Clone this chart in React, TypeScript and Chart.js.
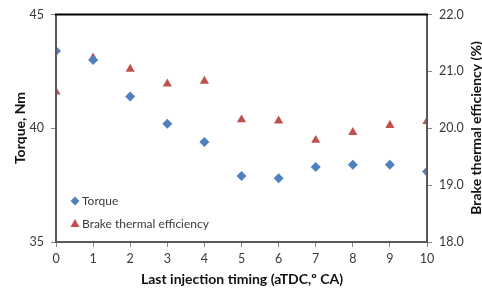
import React, { useEffect, useRef } from "react";
import { Chart, registerables } from "chart.js";

Chart.register(...registerables);

const injectionTiming = [0, 1, 2, 3, 4, 5, 6, 7, 8, 9, 10];
const torque = [43.4, 43.0, 41.4, 40.2, 39.4, 37.9, 37.8, 38.3, 38.4, 38.4, 38.1];
const bte = [20.64, 21.24, 21.04, 20.78, 20.83, 20.15, 20.13, 19.79, 19.93, 20.05, 20.12];
const torqueTicks = [35, 40, 45];
const bteTicks = [18, 19, 20, 21, 22];

const FONT = "Lato, 'Open Sans', sans-serif";
const BLUE = "#4F81BD";
const RED = "#C0504D";
const TEXT = "#3a3a3a";

const decorPlugin = {
  id: "decor",
  afterDraw(chart: any) {
    const { ctx, chartArea } = chart;
    const { left, right, top, bottom } = chartArea;
    ctx.save();
    // frame
    ctx.lineWidth = 2;
    ctx.strokeStyle = "#595959";
    ctx.beginPath();
    ctx.moveTo(left, top);
    ctx.lineTo(left, bottom);
    ctx.lineTo(right, bottom);
    ctx.lineTo(right, top);
    ctx.stroke();
    ctx.strokeStyle = "#000000";
    ctx.beginPath();
    ctx.moveTo(left - 1, top);
    ctx.lineTo(right + 1, top);
    ctx.stroke();

    // titles
    ctx.fillStyle = "#111";
    ctx.font = `bold 14px ${FONT}`;
    ctx.textAlign = "center";
    ctx.textBaseline = "middle";
    ctx.fillText("Last injection timing (aTDC,º CA)", 242, 279);
    ctx.save();
    ctx.translate(20, 128);
    ctx.rotate(-Math.PI / 2);
    ctx.fillText("Torque, Nm", 0, 0);
    ctx.restore();
    ctx.save();
    ctx.translate(476, 128);
    ctx.rotate(-Math.PI / 2);
    ctx.fillText("Brake thermal efficiency (%)", 0, 0);
    ctx.restore();

    // legend
    ctx.font = `12px ${FONT}`;
    ctx.textAlign = "left";
    const lx = 75;
    const y1 = 201;
    const y2 = 224;
    ctx.fillStyle = BLUE;
    ctx.beginPath();
    ctx.moveTo(lx, y1 - 4.5);
    ctx.lineTo(lx + 4.5, y1);
    ctx.lineTo(lx, y1 + 4.5);
    ctx.lineTo(lx - 4.5, y1);
    ctx.closePath();
    ctx.fill();
    ctx.fillStyle = RED;
    ctx.beginPath();
    ctx.moveTo(lx, y2 - 5);
    ctx.lineTo(lx + 4.5, y2 + 3);
    ctx.lineTo(lx - 4.5, y2 + 3);
    ctx.closePath();
    ctx.fill();
    ctx.fillStyle = TEXT;
    ctx.fillText("Torque", lx + 7, y1 + 0.5);
    ctx.fillText("Brake thermal efficiency", lx + 7, y2 + 0.5);
    ctx.restore();
  },
};

export default function App() {
  const ref = useRef<HTMLCanvasElement | null>(null);
  useEffect(() => {
    document.body.style.margin = "0";
    const canvas = ref.current;
    if (!canvas) return;
    const tickGrid = {
      display: true,
      drawOnChartArea: false,
      drawTicks: true,
      tickLength: 5,
      color: "#868686",
      lineWidth: 1,
    };
    const chart = new Chart(canvas, {
      type: "scatter",
      data: {
        datasets: [
          {
            label: "Torque",
            data: injectionTiming.map((x, i) => ({ x, y: torque[i] })),
            yAxisID: "y",
            pointStyle: "rectRot",
            pointRadius: 5,
            backgroundColor: BLUE,
            borderColor: BLUE,
            borderWidth: 0,
          },
          {
            label: "Brake thermal efficiency",
            data: injectionTiming.map((x, i) => ({ x, y: bte[i] })),
            yAxisID: "y1",
            pointStyle: "triangle",
            pointRadius: 5.3,
            backgroundColor: RED,
            borderColor: RED,
            borderWidth: 0,
          },
        ],
      },
      options: {
        responsive: false,
        animation: false,
        layout: { padding: { top: 14, left: 0, right: 0, bottom: 0 } },
        plugins: { legend: { display: false }, tooltip: { enabled: false } },
        scales: {
          x: {
            type: "linear",
            min: 0,
            max: 10,
            grid: tickGrid,
            border: { display: false },
            afterFit: (s: any) => {
              s.height = 49;
            },
            ticks: {
              stepSize: 1,
              padding: 4,
              color: TEXT,
              font: { family: FONT, size: 12.5 },
            },
          },
          y: {
            type: "linear",
            position: "left",
            min: 35,
            max: 45,
            grid: tickGrid,
            border: { display: false },
            afterFit: (s: any) => {
              s.width = 56;
            },
            afterBuildTicks: (s: any) => {
              s.ticks = torqueTicks.map((v) => ({ value: v }));
            },
            ticks: {
              padding: 7,
              color: TEXT,
              font: { family: FONT, size: 12.5 },
            },
          },
          y1: {
            type: "linear",
            position: "right",
            min: 18,
            max: 22,
            grid: tickGrid,
            border: { display: false },
            afterFit: (s: any) => {
              s.width = 55;
            },
            afterBuildTicks: (s: any) => {
              s.ticks = bteTicks.map((v) => ({ value: v }));
            },
            ticks: {
              padding: 7,
              color: TEXT,
              font: { family: FONT, size: 12.5 },
              callback: (v: any) => Number(v).toFixed(1),
            },
          },
        },
      },
      plugins: [decorPlugin],
    } as any);
    return () => chart.destroy();
  }, []);
  return (
    <div style={{ width: 482, height: 291 }}>
      <canvas ref={ref} width={482} height={291} style={{ display: "block" }} />
    </div>
  );
}
